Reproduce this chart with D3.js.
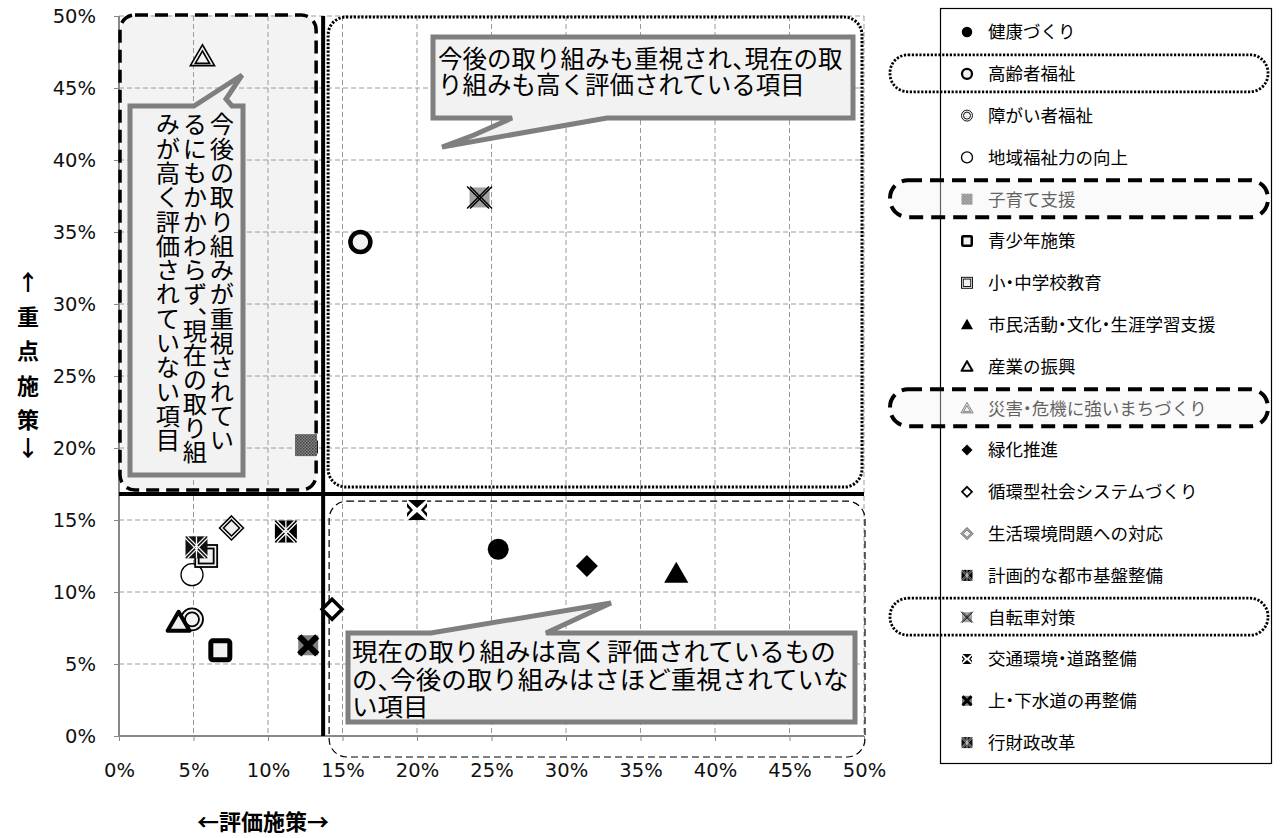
<!DOCTYPE html>
<html><head><meta charset="utf-8">
<script src="https://cdn.jsdelivr.net/npm/d3@7"></script>
<style>
html,body{margin:0;padding:0;background:#fff;}
svg{display:block;}
text{font-family:"Noto Sans CJK JP","Noto Sans",sans-serif;}
.tick text{font-family:"DejaVu Sans",sans-serif;}
.half{font-feature-settings:"halt" 1;}
.vhalf{font-feature-settings:"vhal" 1;}
</style></head>
<body><svg id="chart" width="1280" height="838"></svg>
<script>
// ---------------- data ----------------
const categories = ["健康づくり","高齢者福祉","障がい者福祉","地域福祉力の向上","子育て支援","青少年施策","小・中学校教育","市民活動・文化・生涯学習支援","産業の振興","災害・危機に強いまちづくり","緑化推進","循環型社会システムづくり","生活環境問題への対応","計画的な都市基盤整備","自転車対策","交通環境・道路整備","上・下水道の再整備","行財政改革"];
const evalValues = [0.2545,0.162,0.049,0.049,0.1255,0.068,0.0585,0.374,0.040,0.056,0.314,0.143,0.0755,0.112,0.242,0.200,0.127,0.052];
const priorityValues = [0.1297,0.343,0.081,0.112,0.202,0.0595,0.125,0.113,0.079,0.472,0.118,0.088,0.1445,0.142,0.374,0.157,0.063,0.131];
const markerTypes = ["dotFill","ringThick","ringDouble","ringThin","sqPattern","sqThick","sqDouble","triFill","triThick","triDouble","dmFill","dmThick","dmDouble","xWhite","xGray","xHour","xBold","xWhite2"];
const tickValues = [0,0.05,0.10,0.15,0.20,0.25,0.30,0.35,0.40,0.45,0.50];
const dividerEval = 0.137, dividerPriority = 0.168;
const highlightedItems = [{i:1,style:"dotted"},{i:4,style:"dashed"},{i:9,style:"dashed"},{i:14,style:"dotted"}];
const calloutTopRight = ["今後の取り組みも重視され、現在の取","り組みも高く評価されている項目"];
const calloutBottom = ["現在の取り組みは高く評価されているもの","の、今後の取り組みはさほど重視されていな","い項目"];
const calloutLeft = ["今後の取り組みが重視されてい","るにもかかわらず、現在の取り組","みが高く評価されていない項目"];
const yTitleChars = ["↑","重","点","施","策","↓"];
const xTitle = "←評価施策→";

// ---------------- layout ----------------
const svg = d3.select("#chart");
const x = d3.scaleLinear().domain([0,0.5]).range([119,864]);
const y = d3.scaleLinear().domain([0,0.5]).range([736,16]);
const fmt = d3.format(".0%");

const defs = svg.append("defs");
const pat = defs.append("pattern").attr("id","dots").attr("width",3).attr("height",3).attr("patternUnits","userSpaceOnUse");
pat.append("rect").attr("width",3).attr("height",3).attr("fill","#8a8a8a");
pat.append("rect").attr("width",1.5).attr("height",1.5).attr("fill","#3a3a3a");
pat.append("rect").attr("x",1.5).attr("y",1.5).attr("width",1.5).attr("height",1.5).attr("fill","#4a4a4a");

// top-left region fill
const gBg = svg.append("g");
gBg.append("rect").attr("x",x(0)+2).attr("y",15).attr("width",x(dividerEval)-x(0)-9).attr("height",y(dividerPriority)-19)
  .attr("rx",15).attr("fill","#f3f3f3");

// grid
const grid = svg.append("g");
grid.selectAll("line.v").data(tickValues.slice(1)).join("line")
  .attr("x1",d=>x(d)).attr("x2",d=>x(d)).attr("y1",y(0.5)).attr("y2",y(0))
  .attr("stroke","#9a9a9a").attr("stroke-width",1).attr("stroke-dasharray","5,3");
grid.selectAll("line.h").data(tickValues.slice(1)).join("line")
  .attr("y1",d=>y(d)).attr("y2",d=>y(d)).attr("x1",x(0)).attr("x2",x(0.5))
  .attr("stroke","#9a9a9a").attr("stroke-width",1).attr("stroke-dasharray","5,3");

// axes
const ax = svg.append("g").attr("transform",`translate(0,${y(0)})`)
  .call(d3.axisBottom(x).tickValues(tickValues).tickFormat(fmt).tickSize(5).tickPadding(22));
const ay = svg.append("g").attr("transform",`translate(${x(0)},0)`)
  .call(d3.axisLeft(y).tickValues(tickValues).tickFormat(fmt).tickSize(5).tickPadding(18));
[ax,ay].forEach(a=>{
  a.select(".domain").attr("stroke","#888").attr("stroke-width",2);
  a.selectAll(".tick line").attr("stroke","#888");
  a.selectAll(".tick text").attr("font-size",19.5).attr("fill","#111");
});
ax.select(".domain").attr("d",`M${x(0)},0H${x(0.5)}`);
ay.select(".domain").attr("d",`M0,${y(0)}V${y(0.5)}`);

// region frames
const gFr = svg.append("g").attr("fill","none").attr("stroke","#000");
gFr.append("rect").attr("x",x(0)+1).attr("y",15).attr("width",x(dividerEval)-x(0)-8).attr("height",y(dividerPriority)-19)
  .attr("rx",15).attr("stroke-width",3.5).attr("stroke-dasharray","13,7");
gFr.append("rect").attr("x",x(dividerEval)+5).attr("y",y(0.5)+1).attr("width",x(0.5)-x(dividerEval)-7).attr("height",y(dividerPriority)-y(0.5)-8)
  .attr("rx",18).attr("stroke-width",3).attr("stroke-dasharray","2.2,1.6");
gFr.append("rect").attr("x",x(dividerEval)+6).attr("y",y(dividerPriority)+7).attr("width",x(0.5)-x(dividerEval)-5).attr("height",y(0)-y(dividerPriority)+14)
  .attr("rx",18).attr("stroke-width",1.2).attr("stroke-dasharray","7,4");

// divider lines
svg.append("line").attr("x1",x(dividerEval)).attr("x2",x(dividerEval)).attr("y1",y(0.5)).attr("y2",y(0)).attr("stroke","#000").attr("stroke-width",4);
svg.append("line").attr("x1",x(0)).attr("x2",x(0.5)).attr("y1",y(dividerPriority)).attr("y2",y(dividerPriority)).attr("stroke","#000").attr("stroke-width",4);

// ---------------- markers ----------------
function tri(r){return `M0,${-r*1.05}L${r*1.1},${r*0.85}L${-r*1.1},${r*0.85}Z`;}
function dm(r){return `M0,${-r}L${r},0L0,${r}L${-r},0Z`;}
function drawMarker(g,type,s){
  const k=s;
  switch(type){
    case "dotFill": g.append("circle").attr("r",10.5*k).attr("fill","#000"); break;
    case "ringThick": g.append("circle").attr("r",10*k).attr("fill","#f2f2f2").attr("stroke","#000").attr("stroke-width",4.5*k); break;
    case "ringDouble": g.append("circle").attr("r",11*k).attr("fill","#f2f2f2").attr("stroke","#000").attr("stroke-width",1.8*k);
      g.append("circle").attr("r",7*k).attr("fill","none").attr("stroke","#000").attr("stroke-width",1.8*k); break;
    case "ringThin": g.append("circle").attr("r",11*k).attr("fill","#fff").attr("stroke","#000").attr("stroke-width",1.3); break;
    case "sqPattern": g.append("rect").attr("x",-11*k).attr("y",-11*k).attr("width",22*k).attr("height",22*k).attr("fill","url(#dots)"); break;
    case "sqThick": g.append("rect").attr("x",-9.5*k).attr("y",-9.5*k).attr("width",19*k).attr("height",19*k).attr("rx",2*k).attr("fill","#f2f2f2").attr("stroke","#000").attr("stroke-width",5*k); break;
    case "sqDouble": g.append("rect").attr("x",-11*k).attr("y",-11*k).attr("width",22*k).attr("height",22*k).attr("fill","#f2f2f2").attr("stroke","#000").attr("stroke-width",1.8*k);
      g.append("rect").attr("x",-7.5*k).attr("y",-7.5*k).attr("width",15*k).attr("height",15*k).attr("fill","none").attr("stroke","#000").attr("stroke-width",1.8*k); break;
    case "triFill": g.append("path").attr("d",tri(11*k)).attr("fill","#000"); break;
    case "triThick": g.append("path").attr("d",tri(10*k)).attr("fill","#eee").attr("stroke","#000").attr("stroke-width",4*k).attr("stroke-linejoin","round"); break;
    case "triDouble": g.append("path").attr("d",tri(11*k)).attr("fill","#f2f2f2").attr("stroke","#000").attr("stroke-width",1.6*k);
      g.append("path").attr("d",tri(6.5*k)).attr("transform",`translate(0,${1.5*k})`).attr("fill","none").attr("stroke","#000").attr("stroke-width",1.6*k); break;
    case "dmFill": g.append("path").attr("d",dm(11*k)).attr("fill","#000"); break;
    case "dmThick": g.append("path").attr("d",dm(10*k)).attr("fill","#fff").attr("stroke","#000").attr("stroke-width",3.5*k); break;
    case "dmDouble": g.append("path").attr("d",dm(12*k)).attr("fill","#eee").attr("stroke","#000").attr("stroke-width",1.5*k);
      g.append("path").attr("d",dm(8*k)).attr("fill","none").attr("stroke","#000").attr("stroke-width",1.5*k); break;
    case "xWhite": case "xWhite2":
      g.append("rect").attr("x",-11*k).attr("y",-11*k).attr("width",22*k).attr("height",22*k).attr("fill",type==="xWhite"?"#000":"#111");
      [[-1,-1,1,1],[-1,1,1,-1]].forEach(p=>{
        [-2,2].forEach(o=>g.append("line").attr("x1",p[0]*11*k+o*k).attr("y1",p[1]*11*k).attr("x2",p[2]*11*k+o*k).attr("y2",p[3]*11*k).attr("stroke","#fff").attr("stroke-width",1.3*k));
      });
      g.append("line").attr("x1",0).attr("x2",0).attr("y1",-11*k).attr("y2",11*k).attr("stroke","#fff").attr("stroke-width",1.3*k); break;
    case "xGray": g.append("rect").attr("x",-10*k).attr("y",-10*k).attr("width",20*k).attr("height",20*k).attr("fill","#a0a0a0");
      [[-1,-1,1,1],[-1,1,1,-1]].forEach(p=>{
        [-1.5,1.5].forEach(o=>g.append("line").attr("x1",p[0]*11*k+o*k).attr("y1",p[1]*11*k).attr("x2",p[2]*11*k+o*k).attr("y2",p[3]*11*k).attr("stroke","#000").attr("stroke-width",1.4*k));
      }); break;
    case "xHour":
      g.append("rect").attr("x",-10*k).attr("y",-10*k).attr("width",20*k).attr("height",20*k).attr("fill","#fff");
      g.append("path").attr("d",`M${-9*k},${-10*k}L${9*k},${-10*k}L0,${-2*k}Z M${-9*k},${10*k}L${9*k},${10*k}L0,${2*k}Z M${-10*k},${-7*k}L${-4*k},0L${-10*k},${7*k}Z M${10*k},${-7*k}L${4*k},0L${10*k},${7*k}Z`).attr("fill","#000");
      g.append("path").attr("d",`M${-10*k},${-3*k}L${-7*k},0L${-10*k},${3*k}Z M${10*k},${-3*k}L${7*k},0L${10*k},${3*k}Z`).attr("fill","#fff"); break;
    case "xBold": g.append("rect").attr("x",-10*k).attr("y",-10*k).attr("width",20*k).attr("height",20*k).attr("fill","#808080");
      g.append("path").attr("d",`M${-9*k},${-9*k}L${9*k},${9*k}M${-9*k},${9*k}L${9*k},${-9*k}`).attr("stroke","#000").attr("stroke-width",6*k); break;
  }
}
const pts = categories.map((c,i)=>({name:c,ev:evalValues[i],pr:priorityValues[i],type:markerTypes[i]}));
const gPts = svg.append("g");
gPts.selectAll("g").data(pts).join("g")
  .attr("transform",d=>`translate(${x(d.ev)},${y(d.pr)})`)
  .each(function(d){drawMarker(d3.select(this),d.type,1);});

// ---------------- callouts ----------------
const cStyle = g=>g.attr("fill","#f2f2f2").attr("stroke","#7f7f7f").attr("stroke-width",5).attr("stroke-linejoin","miter");
// top-right
const c1 = svg.append("g");
c1.append("path").call(cStyle).attr("d","M433,37H853V118H607L442,147L474,135L512,118H433Z");
c1.selectAll("text").data(calloutTopRight).join("text").attr("class","half").attr("x",438).attr("y",(d,i)=>68+i*26)
  .attr("font-size",24.5).attr("fill","#000").text(d=>d);
// bottom
const c2 = svg.append("g");
c2.append("path").call(cStyle).attr("d","M348,633H431L611,603L587,614L546,633H855V722H348Z");
c2.selectAll("text").data(calloutBottom).join("text").attr("class","half").attr("x",352).attr("y",(d,i)=>661+i*27.5)
  .attr("font-size",25.5).attr("fill","#000").text(d=>d);
// left vertical
const c3 = svg.append("g");
c3.append("path").call(cStyle).attr("d","M130,106H194L242,75L226,99L232,106H243V475H130Z");
c3.selectAll("text").data(calloutLeft).join("text").attr("class","vhalf")
  .attr("x",(d,i)=>222-i*27).attr("y",112)
  .attr("font-size",24.3).attr("fill","#000")
  .style("writing-mode","vertical-rl").text(d=>d);

// ---------------- axis titles ----------------
svg.append("g").selectAll("text").data(yTitleChars).join("text")
  .attr("x",28).attr("y",(d,i)=>i<5 ? 290+i*34.5 : 456)
  .attr("text-anchor","middle").attr("font-size",22).attr("font-weight","bold").text(d=>d);
svg.append("text").attr("x",263).attr("y",830).attr("text-anchor","middle").attr("font-size",22).attr("font-weight","bold").text(xTitle);

// ---------------- legend ----------------
const lg = svg.append("g");
lg.append("rect").attr("x",940.5).attr("y",8.5).attr("width",331).attr("height",755).attr("fill","#fff").attr("stroke","#000").attr("stroke-width",1.2);
const ly = i=>32+i*41.8;
const items = lg.selectAll("g.item").data(pts).join("g").attr("class","item").attr("transform",(d,i)=>`translate(0,${ly(i)})`);
items.append("g").attr("transform","translate(967,0)").each(function(d){drawMarker(d3.select(this),d.type,0.5);});
items.append("text").attr("class","half").attr("x",988).attr("y",0).attr("dy","0.36em").attr("font-size",17.5).attr("fill","#000").text(d=>d.name);
// highlight ovals
highlightedItems.forEach(h=>{
  const r = lg.append("rect").attr("x",890).attr("y",ly(h.i)-19).attr("width",378).attr("height",37).attr("rx",18);
  if(h.style==="dotted"){
    r.attr("fill","none").attr("stroke","#000").attr("stroke-width",2.8).attr("stroke-dasharray","2.2,1.6");
  } else {
    r.attr("fill","rgba(242,242,242,0.4)").attr("stroke","#000").attr("stroke-width",4).attr("stroke-dasharray","14,8");
  }
});
</script></body></html>
